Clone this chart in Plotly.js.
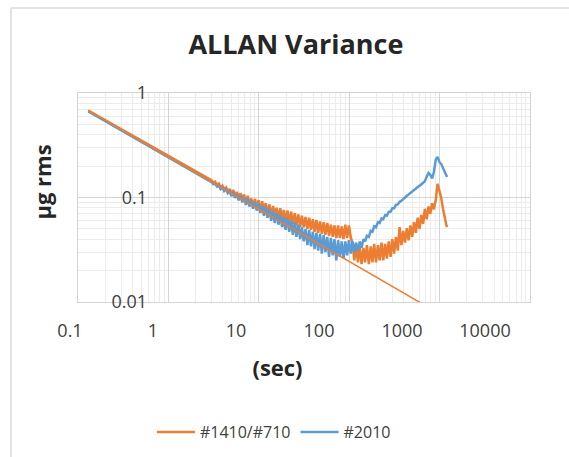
<!DOCTYPE html>
<html>
<head>
<meta charset="utf-8">
<script src="https://cdn.plot.ly/plotly-3.0.1.min.js"></script>
<style>html,body{margin:0;padding:0;background:#fff;}#chart{width:569px;height:457px;}</style>
</head>
<body>
<div id="chart"></div>
<script>
// averaging time tau (sec)
var tau = [0.13, 0.18, 0.25, 0.35, 0.5, 0.7, 1, 1.4, 2, 2.5,
  3, 3.14, 3.29, 3.45, 3.61, 3.78, 3.96, 4.14, 4.34, 4.54,
  4.76, 4.98, 5.22, 5.46, 5.72, 5.99, 6.27, 6.57, 6.87, 7.2,
  7.54, 7.89, 8.26, 8.65, 9.06, 9.49, 9.93, 10.4, 10.9, 11.4,
  11.9, 12.5, 13.1, 13.7, 14.4, 15.0, 15.7, 16.5, 17.3, 18.1,
  18.9, 19.8, 20.8, 21.7, 22.8, 23.8, 25.0, 26.1, 27.4, 28.7,
  30.0, 31.4, 32.9, 34.5, 36.1, 37.8, 39.6, 41.4, 43.4, 45.4,
  47.6, 49.8, 52.2, 54.6, 57.2, 59.9, 62.7, 65.7, 68.7, 72.0,
  75.4, 78.9, 82.6, 86.5, 90.6, 94.9, 99.3, 104, 109, 114,
  119, 125, 131, 137, 144, 150, 157, 165, 173, 181,
  189, 198, 208, 217, 228, 238, 250, 261, 274, 287,
  300, 314, 329, 345, 361, 378, 396, 414, 434, 454,
  476, 498, 522, 546, 572, 599, 627, 657, 687, 720,
  754, 789, 826, 865, 906, 949, 993, 1040, 1090, 1140,
  1190, 1210];

// #1410/#710 (orange)
var s1410 = [0.68, 0.58, 0.49, 0.415, 0.35, 0.295, 0.247, 0.21, 0.176, 0.158,
  0.146, 0.139, 0.142, 0.131, 0.136, 0.125, 0.13, 0.12, 0.125, 0.114,
  0.121, 0.108, 0.118, 0.104, 0.113, 0.1, 0.11, 0.095, 0.107, 0.09,
  0.104, 0.088, 0.098, 0.083, 0.097, 0.08, 0.094, 0.076, 0.092, 0.074,
  0.088, 0.071, 0.086, 0.068, 0.083, 0.066, 0.08, 0.064, 0.079, 0.061,
  0.076, 0.06, 0.075, 0.057, 0.073, 0.056, 0.071, 0.054, 0.069, 0.052,
  0.067, 0.052, 0.065, 0.05, 0.064, 0.049, 0.062, 0.047, 0.061, 0.046,
  0.059, 0.045, 0.058, 0.044, 0.057, 0.043, 0.055, 0.042, 0.054, 0.041,
  0.054, 0.041, 0.053, 0.04, 0.055, 0.041, 0.054, 0.042, 0.036, 0.025,
  0.035, 0.024, 0.034, 0.023, 0.033, 0.024, 0.035, 0.023, 0.034, 0.024,
  0.036, 0.024, 0.035, 0.025, 0.037, 0.025, 0.036, 0.026, 0.038, 0.027,
  0.04, 0.029, 0.042, 0.031, 0.052, 0.035, 0.048, 0.037, 0.051, 0.039,
  0.054, 0.042, 0.058, 0.046, 0.064, 0.05, 0.068, 0.056, 0.078, 0.062,
  0.082, 0.07, 0.088, 0.077, 0.094, 0.135, 0.118, 0.1, 0.078, 0.062,
  0.054, 0.052];

// #2010 (blue)
var s2010 = [0.665, 0.565, 0.48, 0.405, 0.34, 0.288, 0.24, 0.203, 0.17, 0.152,
  0.14, 0.134, 0.136, 0.127, 0.13, 0.12, 0.125, 0.115, 0.12, 0.11,
  0.115, 0.103, 0.112, 0.099, 0.107, 0.094, 0.104, 0.09, 0.1, 0.085,
  0.097, 0.082, 0.093, 0.078, 0.09, 0.075, 0.087, 0.071, 0.083, 0.067,
  0.08, 0.064, 0.077, 0.06, 0.074, 0.057, 0.071, 0.055, 0.068, 0.052,
  0.065, 0.049, 0.063, 0.047, 0.06, 0.044, 0.058, 0.042, 0.055, 0.04,
  0.052, 0.038, 0.05, 0.035, 0.049, 0.034, 0.047, 0.032, 0.046, 0.031,
  0.045, 0.029, 0.044, 0.03, 0.042, 0.027, 0.041, 0.028, 0.04, 0.025,
  0.039, 0.027, 0.038, 0.026, 0.038, 0.028, 0.039, 0.029, 0.038, 0.03,
  0.037, 0.031, 0.038, 0.033, 0.04, 0.038, 0.043, 0.042, 0.048, 0.047,
  0.053, 0.052, 0.058, 0.057, 0.063, 0.062, 0.068, 0.067, 0.073, 0.073,
  0.079, 0.079, 0.085, 0.086, 0.091, 0.093, 0.097, 0.1, 0.104, 0.107,
  0.111, 0.114, 0.119, 0.121, 0.126, 0.129, 0.134, 0.138, 0.143, 0.158,
  0.172, 0.165, 0.152, 0.175, 0.23, 0.245, 0.22, 0.21, 0.19, 0.175,
  0.16, 0.157];

// white-noise reference slope (drawn in orange, no legend entry)
var refTau = [0.13, 620];
var refVal = [0.68, 0.0098];

var xTickVals = [0.1, 1, 10, 100, 1000, 10000];
var xTickText = ['0.1', '1', '10', '100', '1000', '10000'];
var yTickVals = [0.01, 0.1, 1];
var yTickText = ['0.01', '0.1', '1'];

var ORANGE = '#ED7D31', BLUE = '#5B9BD5';
var GRID = '#d4d4d4', MINOR = '#ececec';
var FONT = 'Open Sans, sans-serif';

var traces = [
  {x: tau, y: s1410, type: 'scatter', mode: 'lines', name: '#1410/#710',
   line: {color: ORANGE, width: 2.5}},
  {x: tau, y: s2010, type: 'scatter', mode: 'lines', name: '#2010',
   line: {color: BLUE, width: 2.5}},
  {x: refTau, y: refVal, type: 'scatter', mode: 'lines', showlegend: false,
   line: {color: ORANGE, width: 1.5}},
  {x: [], y: [], xaxis: 'x2', yaxis: 'y2', type: 'scatter', mode: 'lines',
   showlegend: false, hoverinfo: 'skip'}
];

var layout = {
  width: 569, height: 457,
  margin: {l: 60, r: 30, t: 60, b: 155, autoexpand: false},
  paper_bgcolor: '#ffffff',
  plot_bgcolor: 'rgba(0,0,0,0)',
  font: {family: FONT, color: '#404040'},
  showlegend: true,
  title: {text: '<b>ALLAN Variance</b>', font: {family: FONT, size: 27, color: '#262626'},
          xref: 'container', yref: 'container', x: 0.52, xanchor: 'center', y: 0.902, yanchor: 'middle'},
  xaxis: {type: 'log', range: [-1, 4], domain: [0.03758, 0.98121], anchor: 'y',
          showticklabels: false, ticks: '', showgrid: true, gridcolor: GRID, gridwidth: 1,
          dtick: 1, showline: true, mirror: true, linecolor: GRID, zeroline: false,
          minor: {showgrid: true, gridcolor: MINOR, dtick: 'D1', ticks: ''}},
  yaxis: {type: 'log', range: [-2, 0], domain: [0, 0.8636], anchor: 'x',
          showticklabels: false, ticks: '', showgrid: true, gridcolor: GRID, gridwidth: 1,
          dtick: 1, showline: true, mirror: true, linecolor: GRID, zeroline: false,
          minor: {showgrid: true, gridcolor: MINOR, dtick: 'D1', ticks: ''}},
  xaxis2: {type: 'log', range: [-1, 4], domain: [0.02088, 0.88727], anchor: 'y',
           tickmode: 'array', tickvals: xTickVals, ticktext: xTickText,
           showgrid: false, showline: false, zeroline: false, ticks: '',
           ticklabelstandoff: 16,
           tickfont: {family: FONT, size: 18, color: '#404040'},
           title: {text: '<b>(sec)</b>', font: {family: FONT, size: 22, color: '#262626'}, standoff: 19}},
  yaxis2: {type: 'log', range: [-2, 0.2967], domain: [0, 0.9917], anchor: 'free', position: 0.1816,
           side: 'left',
           tickmode: 'array', tickvals: yTickVals, ticktext: yTickText,
           showgrid: false, showline: false, zeroline: false, ticks: '',
           tickfont: {family: FONT, size: 18, color: '#404040'},
           title: {text: '<b>µg rms</b>', font: {family: FONT, size: 22, color: '#262626'}, standoff: 52}},
  legend: {orientation: 'h', xref: 'container', yref: 'container',
           x: 0.267, xanchor: 'left', y: 0.0547, yanchor: 'middle',
           itemwidth: 38,
           font: {family: FONT, size: 16, color: '#404040'}, bgcolor: 'rgba(0,0,0,0)'},
  shapes: [
    {type: 'line', xref: 'paper', yref: 'paper', x0: -0.1023, x1: 1.08, y0: 1.2149, y1: 1.2149,
     line: {color: '#d9d9d9', width: 1.5}},
    {type: 'line', xref: 'paper', yref: 'paper', x0: -0.1023, x1: -0.1023, y0: 1.2149, y1: -0.66,
     line: {color: '#d9d9d9', width: 1.5}}
  ]
};

Plotly.newPlot('chart', traces, layout, {staticPlot: true, displayModeBar: false});
</script>
</body>
</html>
